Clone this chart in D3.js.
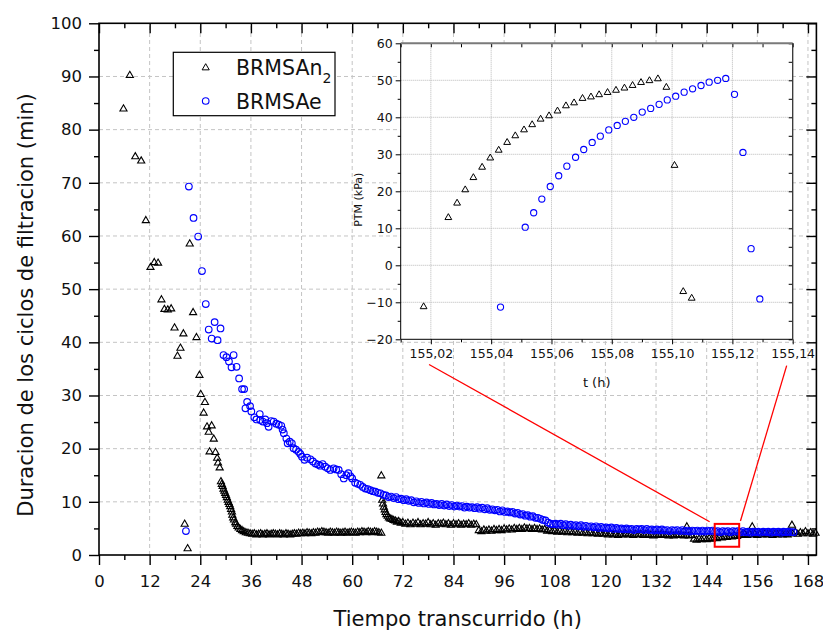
<!DOCTYPE html>
<html><head><meta charset="utf-8">
<script src="https://cdn.jsdelivr.net/npm/d3@7"></script>
<style>
body{margin:0;background:#fff;}
svg{display:block;font-family:"DejaVu Sans",Verdana,sans-serif;}
</style></head><body>
<svg id="chart" width="823" height="635"></svg>
<script>
// ---------------- DATA ----------------
const seriesNames = ["BRMSAn", "BRMSAe"];
const xLabel = "Tiempo transcurrido (h)";
const yLabel = "Duracion de los ciclos de filtracion (min)";
const insetXLabel = "t (h)";
const insetYLabel = "PTM (kPa)";

const xTickVals = [0,12,24,36,48,60,72,84,96,108,120,132,144,156,168];
const xMinorVals = [6,18,30,42,54,66,78,90,102,114,126,138,150,162];
const yTickVals = [0,10,20,30,40,50,60,70,80,90,100];
const yMinorVals = [5,15,25,35,45,55,65,75,85,95];
const insetXTickVals = [155.02,155.04,155.06,155.08,155.10,155.12,155.14];
const insetXTickLabels = ["155,02","155,04","155,06","155,08","155,10","155,12","155,14"];
const insetXMinorVals = [155.01,155.03,155.05,155.07,155.09,155.11,155.13];
const insetYTickVals = [-20,-10,0,10,20,30,40,50,60];
const insetYMinorVals = [-15,-5,5,15,25,35,45,55];

// BRMSAn2 : [time (h), cycle duration (min)]
const brmsan2 = [
[5.8,83.9],[7.3,90.2],[8.6,74.9],[10.0,74.1],[11.1,62.9],[12.2,54.1],[13.1,55.0],[14.0,54.9],[14.8,48.0],[15.5,46.2],[16.3,46.1],[17.1,46.3],[17.9,42.7],[18.6,37.4],[19.3,38.9],[20.0,41.6],[20.3,5.8],[21.0,1.2],[21.5,58.5],[22.3,45.6],[23.1,40.9],[23.8,33.8],[24.1,30.2],[24.8,26.7],[25.1,28.7],[25.6,24.1],[26.0,23.1],[26.2,19.4],[26.7,24.3],[27.2,21.8],[27.6,19.3],[28.0,18.2],[28.2,17.3],[28.6,16.4],
[28.9,13.8],[29.1,13.3],[29.3,12.9],[29.5,12.4],[29.7,12.0],[29.9,11.6],[30.1,11.2],[30.3,10.8],[30.5,10.3],[30.7,9.9],[30.9,9.5],[31.1,9.1],[31.3,8.6],[31.5,8.1],[31.6,7.5],[31.8,7.0],[32.0,6.6],[32.3,6.1],[32.5,5.8],[32.8,5.4],[33.1,5.1],[33.5,4.8],[33.9,4.6],[34.3,4.4],[34.8,4.2],[35.3,4.1],[35.8,4.0],
[36.3,3.9],[36.8,4.0],[37.3,3.8],[37.8,3.9],[38.3,4.0],[38.8,3.8],[39.3,3.9],[39.8,4.0],[40.3,3.8],[40.8,3.9],[41.3,4.0],[41.8,3.9],[42.3,3.8],[42.8,4.0],[43.3,3.9],[43.8,3.8],[44.3,4.0],[44.8,3.9],[45.3,3.8],[45.8,3.9],[46.3,4.0],[46.8,3.9],[47.3,4.1],[47.8,4.0],[48.3,4.1],[48.8,4.0],[49.3,4.2],[49.8,4.1],[50.3,4.0],[50.8,4.2],[51.3,4.1],[51.8,4.3],[52.3,4.2],[52.8,4.4],[53.3,4.3],[53.8,4.2],[54.3,4.1],[54.8,4.3],[55.3,4.2],[55.8,4.1],[56.3,4.3],[56.8,4.2],[57.3,4.1],[57.8,4.2],[58.3,4.3],[58.8,4.1],[59.3,4.2],[59.8,4.3],[60.3,4.2],[60.8,4.1],[61.3,4.3],[61.8,4.2],[62.3,4.4],[62.8,4.3],[63.3,4.2],[63.8,4.4],[64.3,4.3],[64.8,4.2],[65.3,4.4],[65.8,4.3],[66.3,4.2],[66.9,4.1],
[66.9,14.9],[67.1,10.3],[67.3,9.6],[67.5,9.0],[67.7,8.5],[67.9,8.0],[68.1,7.6],[68.4,7.3],[68.7,7.0],[69.0,6.8],[69.4,6.7],[69.8,6.5],[70.2,6.4],[70.6,6.2],[71.0,6.3],[71.5,6.0],
[72.0,6.1],[72.6,5.8],[73.2,6.0],[73.8,5.7],[74.4,6.0],[75.0,5.8],[75.6,6.1],[76.2,5.7],[76.8,5.9],[77.4,5.8],[78.0,6.1],[78.6,5.7],[79.2,5.9],[79.8,5.6],[80.4,5.9],[81.0,5.8],[81.6,6.0],[82.2,5.7],[82.8,5.9],[83.4,5.6],[84.0,5.9],[84.6,5.7],[85.2,5.9],[85.8,5.6],[86.4,5.8],[87.0,5.7],[87.6,5.9],[88.2,5.6],[88.8,5.8],[89.4,5.7],
[90.0,4.6],[90.6,4.4],[91.2,4.7],[91.8,4.5],[92.4,4.7],[93.0,4.5],[93.6,4.8],[94.2,4.6],[94.8,4.8],[95.4,4.6],[96.0,4.9],[96.6,4.7],[97.2,4.9],[97.8,4.7],[98.4,5.0],[99.0,4.8],[99.6,5.0],[100.2,4.8],[100.8,5.1],[101.4,4.9],[102.0,5.0],[102.6,4.8],[103.2,5.0],[103.8,4.8],[104.4,4.9],[105.0,4.7],[105.6,4.8],[106.2,4.5],[106.8,4.6],[107.4,4.4],[108.0,4.5],[108.6,4.3],[109.2,4.5],[109.8,4.3],[110.4,4.4],[111.0,4.2],[111.6,4.4],[112.2,4.2],[112.8,4.3],[113.4,4.1],[114.0,4.3],[114.6,4.1],[115.2,4.2],[115.8,4.0],[116.4,4.2],[117.0,4.0],[117.6,4.1],[118.2,3.9],[118.8,4.1],[119.4,3.9],
[120.0,4.0],[120.6,3.8],[121.2,4.0],[121.8,3.8],[122.4,3.9],[123.0,3.7],[123.6,3.9],[124.2,3.8],[124.8,4.0],[125.4,3.8],[126.0,3.9],[126.6,3.7],[127.2,3.9],[127.8,3.8],[128.4,3.9],[129.0,3.7],[129.6,3.9],[130.2,3.7],[130.8,3.8],[131.4,3.6],[132.0,3.8],[132.6,3.7],[133.2,3.9],[133.8,3.7],[134.4,3.8],[135.0,3.6],[135.6,3.8],[136.2,3.6],[136.8,3.8],[137.4,3.7],[138.0,3.8],[138.6,3.6],[139.2,3.7],[139.3,5.3],[139.8,3.6],[140.4,3.7],
[141.0,3.0],[141.6,2.8],[142.2,3.0],[142.8,2.9],[143.4,3.1],[144.0,2.9],[144.6,3.1],[145.2,3.0],[145.8,3.2],[146.4,3.1],[147.0,3.3],[147.6,3.2],[148.2,3.4],[148.8,3.3],[149.4,3.5],[150.0,3.4],[150.6,3.6],[151.2,3.5],[151.8,3.7],
[152.4,3.8],[153.0,3.9],[153.6,3.7],[154.2,3.9],[154.8,3.8],[154.8,5.3],[155.4,3.9],[156.0,3.7],[156.6,3.9],[157.2,3.8],[157.8,4.0],[158.4,3.8],[159.0,3.9],[159.6,3.7],[160.2,3.9],[160.8,3.8],[161.4,4.0],[162.0,3.8],[162.6,3.9],[163.2,3.8],[163.8,4.0],[164.2,5.6],[164.4,4.0],[165.0,4.3],[165.6,3.9],[166.2,4.2],[166.8,4.0],[167.4,4.4],[168.0,4.0],[168.6,4.2],[169.2,3.9],[169.8,4.1]
];

// BRMSAe : [time (h), cycle duration (min)]
const brmsae = [
[20.6,4.5],[21.3,69.3],[22.4,63.4],[23.5,59.9],[24.4,53.4],[25.3,47.2],[26.0,42.4],[26.7,40.7],[27.4,43.8],[28.1,40.4],[28.8,42.6],[29.5,37.6],[30.2,37.2],[30.8,36.4],[31.4,35.3],[31.9,37.6],[32.6,35.4],[33.2,33.2],[33.9,31.2],[34.4,31.2],[34.7,27.6],[35.1,28.8],[35.8,28.0],[36.1,27.0],[36.8,25.9],[37.3,25.5],[38.1,26.5],[38.2,25.4],[38.8,25.1],[39.4,25.5],[39.8,24.8],[40.2,24.1],[40.8,25.2],[41.4,25.1],[42.0,24.7],[42.6,24.5],[43.2,24.3],[43.5,23.6],[43.8,22.9],[44.4,21.9],[44.7,21.0],[45.2,21.3],[45.7,21.0],[46.1,20.1],[46.7,19.8],[47.3,19.4],[47.7,19.0],[48.1,18.5],[48.7,17.9],[49.3,18.3],[50.1,18.0],[50.7,17.6],[51.3,17.2],[51.9,17.0],[52.4,16.8],[53.0,17.1],[53.6,16.6],[54.2,16.3],[54.8,16.0],[55.6,16.3],[56.2,16.1],[56.8,16.0],[57.4,15.2],[58.0,14.4],[58.6,15.0],[59.1,15.4],[59.6,14.8],[60.0,14.4],[60.7,13.6],[61.3,13.4],[61.9,13.2],[62.5,12.8],[63.1,12.5],[63.7,12.4],[64.3,12.2],[64.9,12.0],[65.5,11.9],[66.1,11.7],[66.7,11.6],
[67.4,11.3],[68.0,11.2],[68.6,10.9],[69.2,11.0],[69.8,10.7],[70.4,10.9],[71.0,10.5],[71.6,10.6],[72.2,10.3],[72.8,10.5],[73.4,10.2],[74.0,10.3],[74.6,9.9],[75.2,10.1],[75.8,9.8],[76.4,10.0],[77.0,9.7],[77.6,9.9],[78.2,9.6],[78.8,9.8],[79.4,9.5],[80.0,9.6],[80.6,9.4],[81.2,9.6],[81.8,9.3],[82.4,9.5],[83.0,9.2],[83.6,9.4],[84.2,9.1],[84.8,9.3],[85.4,9.1],[86.0,9.2],[86.6,8.9],[87.2,9.1],[87.8,8.9],[88.4,9.0],[89.0,8.8],[89.6,9.0],[90.2,8.7],[90.8,8.9],[91.4,8.6],[92.0,8.8],[92.6,8.5],[93.2,8.6],[93.8,8.4],[94.4,8.5],[95.0,8.2],[95.6,8.4],[96.2,8.1],[96.8,8.2],[97.4,8.0],[98.0,8.1],[98.6,7.8],[99.2,7.9],[99.8,7.6],[100.4,7.7],[101.0,7.4],[101.6,7.5],[102.2,7.2],[102.8,7.3],[103.4,7.0],[104.0,7.0],[104.6,6.8],[105.2,6.6],[105.8,6.5],[106.4,6.1],
[107.0,5.9],[107.6,5.8],[108.2,5.9],[108.8,5.7],[109.4,5.9],[110.0,5.6],[110.6,5.8],[111.2,5.5],[111.8,5.7],[112.4,5.5],[113.0,5.6],[113.6,5.4],[114.2,5.6],[114.8,5.3],[115.4,5.5],[116.0,5.3],[116.6,5.4],[117.2,5.2],[117.8,5.4],[118.4,5.1],[119.0,5.3],[119.6,5.1],[120.2,5.2],[120.8,5.0],[121.4,5.2],[122.0,4.9],[122.6,5.1],[123.2,4.9],[123.8,5.0],[124.4,4.8],[125.0,5.0],[125.6,4.8],[126.2,4.9],[126.8,4.7],[127.4,4.9],[128.0,4.8],[128.6,4.9],[129.2,4.7],[129.8,4.9],[130.4,4.7],[131.0,4.8],[131.6,4.6],[132.2,4.8],[132.8,4.6],[133.4,4.8],[134.0,4.6],[134.6,4.7],[135.2,4.5],[135.8,4.7],[136.4,4.6],[137.0,4.7],[137.6,4.5],[138.2,4.7],[138.8,4.5],[139.4,4.6],[140.0,4.4],[140.6,4.6],[141.2,4.5],[141.8,4.6],[142.4,4.4],[143.0,4.6],[143.6,4.4],[144.2,4.6],[144.8,4.5],[145.4,4.6],[146.0,4.4],[146.6,4.5],[147.2,4.3],[147.8,4.5],[148.4,4.4],[149.0,4.5],[149.6,4.3],[150.2,4.5],[150.8,4.4],[151.4,4.5],[152.0,4.3],[152.6,4.5],[153.2,4.3],[153.8,4.4],[154.4,4.2],[155.0,4.4],[155.6,4.3],[156.2,4.4],[156.8,4.2],[157.4,4.4],[158.0,4.3],[158.6,4.4],[159.2,4.2],[159.8,4.4],[160.4,4.3],[161.0,4.4],[161.6,4.2],[162.2,4.4],[162.8,4.3],[163.4,4.4],[164.0,4.3],[164.6,4.3]
];

// Inset: PTM (kPa) vs t (h)
const insetAn2 = [
[155.0176,-11.2],[155.0258,12.9],[155.0287,16.8],[155.0314,20.4],[155.0341,23.7],[155.0370,26.5],[155.0397,29.0],[155.0425,31.1],[155.0453,33.2],[155.0480,35.0],[155.0509,36.6],[155.0536,38.0],[155.0564,39.5],[155.0592,40.4],[155.0620,41.7],[155.0648,43.1],[155.0675,43.9],[155.0703,45.1],[155.0731,45.5],[155.0758,46.1],[155.0786,46.7],[155.0814,47.3],[155.0842,47.9],[155.0869,48.6],[155.0897,49.4],[155.0925,49.9],[155.0953,50.4],[155.0981,48.1],[155.1008,27.0],[155.1037,-7.1],[155.1065,-8.9]
];
const insetAe = [
[155.0431,-11.3],[155.0513,10.3],[155.0541,14.2],[155.0568,17.9],[155.0596,21.3],[155.0624,24.2],[155.0651,26.8],[155.0680,29.2],[155.0707,31.3],[155.0735,33.2],[155.0762,34.9],[155.0790,36.6],[155.0818,37.8],[155.0845,38.9],[155.0873,40.0],[155.0901,41.4],[155.0929,42.4],[155.0957,43.5],[155.0984,44.7],[155.1012,45.7],[155.1040,46.8],[155.1068,47.7],[155.1096,48.6],[155.1123,49.5],[155.1151,50.0],[155.1178,50.5],[155.1207,46.2],[155.1235,30.5],[155.1262,4.5],[155.1291,-9.1]
];

// zoom annotation (data units)
const zoomBoxT = [145.9, 151.7];
const zoomBoxV = [1.55, 5.85];
const calloutInsetT = [155.0194, 155.138];
const calloutInsetV = [-26.8, -27.1];
const calloutMainT = [144.7, 152.0];
const calloutMainV = [6.26, 6.39];

// ---------------- DRAW ----------------
const svg = d3.select("#chart");
const blue = "#0000ff";

const x = d3.scaleLinear().domain([0,170]).range([99,816.4]);
const y = d3.scaleLinear().domain([0,100]).range([555,23.3]);
const ix = d3.scaleLinear().domain([155.01,155.14]).range([400.7,792.7]);
const iy = d3.scaleLinear().domain([-20,60]).range([339.3,43.3]);

// main grid
const grid = svg.append("g").attr("stroke","#c4c4c4").attr("stroke-width",1).attr("stroke-dasharray","4,3");
grid.selectAll(".gx").data(xTickVals.slice(1)).enter().append("line")
  .attr("x1",d=>x(d)).attr("x2",d=>x(d)).attr("y1",y(0)).attr("y2",y(100));
grid.selectAll(".gy").data(yTickVals.slice(1,-1)).enter().append("line")
  .attr("x1",x(0)).attr("x2",x(170)).attr("y1",d=>y(d)).attr("y2",d=>y(d));

function styleAxis(g, fs){
  g.select(".domain").remove();
  g.selectAll("line").attr("stroke","#000").attr("stroke-width",1.4);
  g.selectAll("text").attr("font-family","'DejaVu Sans',Verdana,sans-serif").attr("font-size",fs).attr("fill","#111");
}
// main axes
const fsTick = 16.5;
svg.append("g").attr("transform",`translate(0,${y(0)})`)
  .call(d3.axisBottom(x).tickValues(xTickVals).tickSize(10).tickSizeOuter(0).tickPadding(10).tickFormat(d3.format("d")))
  .call(g=>styleAxis(g,fsTick));
svg.append("g").attr("transform",`translate(0,${y(0)})`)
  .call(d3.axisBottom(x).tickValues(xMinorVals).tickSize(5).tickSizeOuter(0).tickFormat(""))
  .call(g=>styleAxis(g,fsTick));
svg.append("g").attr("transform",`translate(${x(0)},0)`)
  .call(d3.axisLeft(y).tickValues(yTickVals).tickSize(10).tickSizeOuter(0).tickPadding(7).tickFormat(d3.format("d")))
  .call(g=>styleAxis(g,fsTick));
svg.append("g").attr("transform",`translate(${x(0)},0)`)
  .call(d3.axisLeft(y).tickValues(yMinorVals).tickSize(5).tickSizeOuter(0).tickFormat(""))
  .call(g=>styleAxis(g,fsTick));
// mirrored inward ticks top/right
svg.append("g").attr("transform",`translate(0,${y(100)})`)
  .call(d3.axisBottom(x).tickValues(xTickVals).tickSize(10).tickSizeOuter(0).tickFormat(""))
  .call(g=>styleAxis(g,fsTick));
svg.append("g").attr("transform",`translate(0,${y(100)})`)
  .call(d3.axisBottom(x).tickValues(xMinorVals).tickSize(5).tickSizeOuter(0).tickFormat(""))
  .call(g=>styleAxis(g,fsTick));
svg.append("g").attr("transform",`translate(${x(170)},0)`)
  .call(d3.axisLeft(y).tickValues(yTickVals).tickSize(10).tickSizeOuter(0).tickFormat(""))
  .call(g=>styleAxis(g,fsTick));
svg.append("g").attr("transform",`translate(${x(170)},0)`)
  .call(d3.axisLeft(y).tickValues(yMinorVals).tickSize(5).tickSizeOuter(0).tickFormat(""))
  .call(g=>styleAxis(g,fsTick));
// frame
svg.append("rect").attr("x",x(0)).attr("y",y(100)).attr("width",x(170)-x(0)).attr("height",y(0)-y(100))
  .attr("fill","none").attr("stroke","#000").attr("stroke-width",1.6);

// axis titles
svg.append("text").attr("x",(x(0)+x(170))/2).attr("y",626).attr("text-anchor","middle")
  .attr("font-size",21).attr("fill","#111").text(xLabel);
svg.append("text").attr("transform","translate(33,305) rotate(-90)").attr("text-anchor","middle")
  .attr("font-size",21).attr("fill","#111").text(yLabel);

// main data
const triMain = d3.symbol().type(d3.symbolTriangle).size(22);
svg.append("g").selectAll("path").data(brmsan2).enter().append("path")
  .attr("d",triMain).attr("transform",d=>`translate(${x(d[0])},${y(d[1])})`)
  .attr("fill","none").attr("stroke","#000").attr("stroke-width",1.1);
svg.append("g").selectAll("circle").data(brmsae).enter().append("circle")
  .attr("cx",d=>x(d[0])).attr("cy",d=>y(d[1])).attr("r",3.3)
  .attr("fill","none").attr("stroke",blue).attr("stroke-width",1.15);

// ---------------- INSET ----------------
const ig = svg.append("g");
ig.append("rect").attr("x",ix(155.01)).attr("y",iy(60)).attr("width",ix(155.14)-ix(155.01)).attr("height",iy(-20)-iy(60))
  .attr("fill","#fff");
const igrid = ig.append("g").attr("stroke","#b8b8b8").attr("stroke-width",1).attr("stroke-dasharray","1,1");
igrid.selectAll(".a").data(insetXTickVals.slice(0,-1)).enter().append("line")
  .attr("x1",d=>ix(d)).attr("x2",d=>ix(d)).attr("y1",iy(-20)).attr("y2",iy(60));
igrid.selectAll(".b").data(insetYTickVals.slice(1,-1)).enter().append("line")
  .attr("x1",ix(155.01)).attr("x2",ix(155.14)).attr("y1",d=>iy(d)).attr("y2",d=>iy(d));

const fsInset = 12.5;
ig.append("g").attr("transform",`translate(0,${iy(-20)})`)
  .call(d3.axisBottom(ix).tickValues(insetXTickVals).tickSize(5).tickSizeOuter(0).tickPadding(4.5).tickFormat((d,i)=>insetXTickLabels[i]))
  .call(g=>styleAxis(g,fsInset)).call(g=>g.selectAll("line").attr("stroke-width",1));
ig.append("g").attr("transform",`translate(0,${iy(-20)})`)
  .call(d3.axisBottom(ix).tickValues(insetXMinorVals).tickSize(3).tickSizeOuter(0).tickFormat(""))
  .call(g=>styleAxis(g,fsInset)).call(g=>g.selectAll("line").attr("stroke-width",1));
ig.append("g").attr("transform",`translate(${ix(155.01)},0)`)
  .call(d3.axisLeft(iy).tickValues(insetYTickVals).tickSize(5).tickSizeOuter(0).tickPadding(3).tickFormat(d3.format("d")))
  .call(g=>styleAxis(g,fsInset)).call(g=>g.selectAll("line").attr("stroke-width",1));
ig.append("g").attr("transform",`translate(${ix(155.01)},0)`)
  .call(d3.axisLeft(iy).tickValues(insetYMinorVals).tickSize(3).tickSizeOuter(0).tickFormat(""))
  .call(g=>styleAxis(g,fsInset)).call(g=>g.selectAll("line").attr("stroke-width",1));
ig.append("g").attr("transform",`translate(0,${iy(60)})`)
  .call(d3.axisBottom(ix).tickValues(insetXTickVals.concat(insetXMinorVals)).tickSize(4).tickSizeOuter(0).tickFormat(""))
  .call(g=>styleAxis(g,fsInset)).call(g=>g.selectAll("line").attr("stroke-width",1));
ig.append("g").attr("transform",`translate(${ix(155.14)},0)`)
  .call(d3.axisLeft(iy).tickValues(insetYTickVals.concat(insetYMinorVals)).tickSize(4).tickSizeOuter(0).tickFormat(""))
  .call(g=>styleAxis(g,fsInset)).call(g=>g.selectAll("line").attr("stroke-width",1));
// inset frame
ig.append("line").attr("x1",ix(155.01)).attr("x2",ix(155.01)).attr("y1",iy(-20)).attr("y2",iy(60)).attr("stroke","#000").attr("stroke-width",1);
ig.append("line").attr("x1",ix(155.01)).attr("x2",ix(155.14)).attr("y1",iy(-20)).attr("y2",iy(-20)).attr("stroke","#000").attr("stroke-width",1);
ig.append("line").attr("x1",ix(155.01)).attr("x2",ix(155.14)).attr("y1",iy(60)).attr("y2",iy(60)).attr("stroke","#7a7a7a").attr("stroke-width",2);
ig.append("line").attr("x1",ix(155.14)).attr("x2",ix(155.14)).attr("y1",iy(-20)).attr("y2",iy(60)).attr("stroke","#333").attr("stroke-width",1.3);

ig.append("text").attr("x",(ix(155.01)+ix(155.14))/2).attr("y",387).attr("text-anchor","middle")
  .attr("font-size",13).attr("fill","#111").text(insetXLabel);
ig.append("text").attr("transform","translate(362,199.7) rotate(-90)").attr("text-anchor","middle")
  .attr("font-size",11).attr("fill","#111").text(insetYLabel);

const triInset = d3.symbol().type(d3.symbolTriangle).size(20);
ig.append("g").selectAll("path").data(insetAn2).enter().append("path")
  .attr("d",triInset).attr("transform",d=>`translate(${ix(d[0])},${iy(d[1])})`)
  .attr("fill","none").attr("stroke","#000").attr("stroke-width",1);
ig.append("g").selectAll("circle").data(insetAe).enter().append("circle")
  .attr("cx",d=>ix(d[0])).attr("cy",d=>iy(d[1])).attr("r",3.1)
  .attr("fill","none").attr("stroke",blue).attr("stroke-width",1.1);

// ---------------- ZOOM ANNOTATION ----------------
const red = "#ff0000";
svg.append("rect").attr("x",x(zoomBoxT[0])).attr("y",y(zoomBoxV[1]))
  .attr("width",x(zoomBoxT[1])-x(zoomBoxT[0])).attr("height",y(zoomBoxV[0])-y(zoomBoxV[1]))
  .attr("fill","none").attr("stroke",red).attr("stroke-width",2);
svg.append("g").selectAll("line").data([0,1]).enter().append("line")
  .attr("x1",i=>ix(calloutInsetT[i])).attr("y1",i=>iy(calloutInsetV[i]))
  .attr("x2",i=>x(calloutMainT[i])).attr("y2",i=>y(calloutMainV[i]))
  .attr("stroke",red).attr("stroke-width",1.3);

// ---------------- LEGEND ----------------
const lg = svg.append("g");
lg.append("rect").attr("x",173.3).attr("y",52.3).attr("width",161.7).attr("height",63.4)
  .attr("fill","#fff").attr("stroke","#000").attr("stroke-width",1.2);
lg.append("path").attr("d",d3.symbol().type(d3.symbolTriangle).size(22)()).attr("transform","translate(205.7,67.8)")
  .attr("fill","none").attr("stroke","#000").attr("stroke-width",1);
lg.append("circle").attr("cx",205.7).attr("cy",101).attr("r",3.3).attr("fill","none").attr("stroke",blue).attr("stroke-width",1.1);
const t1 = lg.append("text").attr("x",236).attr("y",75).attr("font-size",20.5).attr("fill","#111");
t1.append("tspan").text(seriesNames[0]);
t1.append("tspan").attr("font-size",14).attr("dy",8).text("2");
lg.append("text").attr("x",236).attr("y",109).attr("font-size",20.5).attr("fill","#111").text(seriesNames[1]);
</script>
</body></html>
